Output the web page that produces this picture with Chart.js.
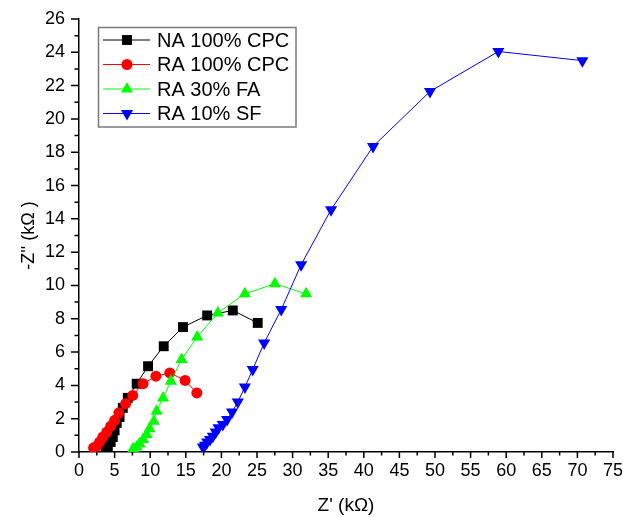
<!DOCTYPE html>
<html>
<head>
<meta charset="utf-8">
<script src="https://cdn.jsdelivr.net/npm/chart.js@4.4.1/dist/chart.umd.min.js"></script>
<style>
  body { margin: 0; background: #fff; }
  #wrap { width: 623px; height: 517px; }
</style>
</head>
<body>
<div id="wrap"><canvas id="nyquist" width="623" height="517"></canvas></div>
<script>
// series labels
const seriesNames = ["NA 100% CPC", "RA 100% CPC", "RA 30% FA", "RA 10% SF"];

// NA 100% CPC (Z' and -Z'' in kOhm)
const naCpcX = [3.75, 4.05, 4.45, 4.75, 5.0, 5.3, 5.7, 6.15, 6.85, 8.1, 9.7, 11.9, 14.6, 18.0, 21.6, 25.1];
const naCpcY = [0.25, 0.35, 0.6, 0.9, 1.3, 1.75, 2.1, 2.65, 3.25, 4.1, 5.15, 6.35, 7.5, 8.2, 8.5, 7.75];

// RA 100% CPC
const raCpcX = [2.05, 2.5, 2.9, 3.35, 3.9, 4.45, 5.0, 5.6, 6.55, 7.55, 9.0, 10.8, 12.75, 14.9, 16.55];
const raCpcY = [0.25, 0.35, 0.6, 0.9, 1.2, 1.55, 1.9, 2.35, 2.9, 3.4, 4.1, 4.55, 4.75, 4.3, 3.55];

// RA 30% FA
const raFaX = [7.6, 8.1, 8.5, 9.0, 9.5, 9.9, 10.5, 10.9, 11.8, 12.9, 14.4, 16.6, 19.5, 23.3, 27.5, 31.9];
const raFaY = [0.2, 0.3, 0.5, 0.75, 1.05, 1.4, 1.85, 2.45, 3.25, 4.25, 5.55, 6.9, 8.35, 9.5, 10.1, 9.5];

// RA 10% SF
const raSfX = [17.4, 17.7, 18.0, 18.4, 18.8, 19.2, 19.6, 20.2, 20.8, 21.5, 22.3, 23.3, 24.4, 26.0, 28.4, 31.2, 35.4, 41.3, 49.3, 58.9, 70.7];
const raSfY = [0.3, 0.4, 0.6, 0.75, 0.95, 1.2, 1.45, 1.65, 1.95, 2.4, 3.0, 3.9, 4.95, 6.55, 8.55, 11.25, 14.55, 18.35, 21.65, 24.05, 23.5];

// axis ticks
const xTicks = [0, 5, 10, 15, 20, 25, 30, 35, 40, 45, 50, 55, 60, 65, 70, 75];
const yTicks = [0, 2, 4, 6, 8, 10, 12, 14, 16, 18, 20, 22, 24, 26];

const FONT = "'Liberation Sans', Arial, sans-serif";

function toPoints(xs, ys) {
    return xs.map((x, i) => ({ x: x, y: ys[i] }));
}

// outward tick marks, major + minor halfway between
const tickMarks = {
    id: 'tickMarks',
    afterDraw(chart) {
        const ctx = chart.ctx;
        const xs = chart.scales.x;
        const ys = chart.scales.y;
        const area = chart.chartArea;
        ctx.save();
        ctx.strokeStyle = '#000';
        ctx.lineWidth = 1.5;
        ctx.beginPath();
        for (let i = 0; i < xTicks.length; i++) {
            const px = xs.getPixelForValue(xTicks[i]);
            ctx.moveTo(px, area.bottom);
            ctx.lineTo(px, area.bottom + 6);
            if (i < xTicks.length - 1) {
                const mx = xs.getPixelForValue((xTicks[i] + xTicks[i + 1]) / 2);
                ctx.moveTo(mx, area.bottom);
                ctx.lineTo(mx, area.bottom + 3.5);
            }
        }
        for (let i = 0; i < yTicks.length; i++) {
            const py = ys.getPixelForValue(yTicks[i]);
            ctx.moveTo(area.left, py);
            ctx.lineTo(area.left - 8, py);
            if (i < yTicks.length - 1) {
                const my = ys.getPixelForValue((yTicks[i] + yTicks[i + 1]) / 2);
                ctx.moveTo(area.left, my);
                ctx.lineTo(area.left - 4.5, my);
            }
        }
        ctx.stroke();
        ctx.restore();
    }
};

// legend box inside the plot, top left
const boxLegend = {
    id: 'boxLegend',
    afterDraw(chart) {
        const ctx = chart.ctx;
        const left = 98.5, top = 27.5, right = 296, bottom = 127;
        ctx.save();
        ctx.fillStyle = '#fff';
        ctx.fillRect(left, top, right - left, bottom - top);
        ctx.strokeStyle = '#7a7a7a';
        ctx.lineWidth = 1.5;
        ctx.strokeRect(left, top, right - left, bottom - top);

        chart.data.datasets.forEach((ds, i) => {
            const cy = 40 + i * 24.5;
            ctx.strokeStyle = ds.borderColor;
            ctx.lineWidth = 1;
            ctx.beginPath();
            ctx.moveTo(103, cy);
            ctx.lineTo(150, cy);
            ctx.stroke();
            ctx.fillStyle = ds.pointBackgroundColor;
            ctx.strokeStyle = ds.pointBorderColor;
            Chart.helpers.drawPoint(ctx, {
                pointStyle: ds.pointStyle,
                rotation: ds.pointRotation || 0,
                radius: ds.pointRadius,
                borderWidth: 0
            }, 127, cy);
            ctx.fillStyle = '#000';
            ctx.font = '20px ' + FONT;
            ctx.textBaseline = 'middle';
            ctx.fillText(seriesNames[i], 157, cy + 1);
        });
        ctx.restore();
    }
};

function makeSet(label, pts, color, style, radius, rot, order) {
    return {
        label: label,
        data: pts,
        showLine: true,
        borderColor: color,
        borderWidth: 1,
        pointStyle: style,
        pointRadius: radius,
        pointRotation: rot,
        pointBackgroundColor: color,
        pointBorderColor: color,
        pointBorderWidth: 0,
        pointHoverRadius: radius,
        order: order
    };
}

new Chart(document.getElementById('nyquist'), {
    type: 'scatter',
    data: {
        datasets: [
            makeSet(seriesNames[0], toPoints(naCpcX, naCpcY), '#000000', 'rect', 7, 0, 4),
            makeSet(seriesNames[1], toPoints(raCpcX, raCpcY), '#ff0000', 'circle', 5.5, 0, 3),
            makeSet(seriesNames[2], toPoints(raFaX, raFaY), '#00ff00', 'triangle', 7, 0, 2),
            makeSet(seriesNames[3], toPoints(raSfX, raSfY), '#0000ff', 'triangle', 7, 180, 1)
        ]
    },
    options: {
        responsive: false,
        animation: false,
        devicePixelRatio: 1,
        layout: { padding: { left: 0, right: 10, top: 19, bottom: 0 } },
        plugins: {
            legend: { display: false },
            tooltip: { enabled: false }
        },
        scales: {
            x: {
                type: 'linear',
                min: 0,
                max: 75,
                afterFit: (scale) => {
                    scale.height = 65;
                    scale.paddingLeft = 0;
                    scale.paddingRight = 0;
                },
                afterBuildTicks: (scale) => { scale.ticks = xTicks.map(v => ({ value: v })); },
                ticks: {
                    color: '#000',
                    font: { family: FONT, size: 18 },
                    padding: 8,
                    autoSkip: false,
                    maxRotation: 0
                },
                grid: { display: false, drawTicks: false },
                border: { display: true, color: '#000', width: 1.5 },
                title: {
                    display: true,
                    text: "Z' (kΩ)",
                    color: '#000',
                    font: { family: FONT, size: 19 },
                    padding: { top: 0, bottom: 0 }
                }
            },
            y: {
                type: 'linear',
                min: 0,
                max: 26,
                afterFit: (scale) => {
                    scale.width = 79;
                    scale.paddingTop = 0;
                    scale.paddingBottom = 0;
                },
                afterBuildTicks: (scale) => { scale.ticks = yTicks.map(v => ({ value: v })); },
                ticks: {
                    color: '#000',
                    font: { family: FONT, size: 18 },
                    padding: 14,
                    autoSkip: false
                },
                grid: { display: false, drawTicks: false },
                border: { display: true, color: '#000', width: 1.5 },
                title: {
                    display: true,
                    text: "-Z'' (kΩ )",
                    color: '#000',
                    font: { family: FONT, size: 18 },
                    padding: { top: 18, bottom: 0 }
                }
            }
        }
    },
    plugins: [tickMarks, boxLegend]
});
</script>
</body>
</html>
